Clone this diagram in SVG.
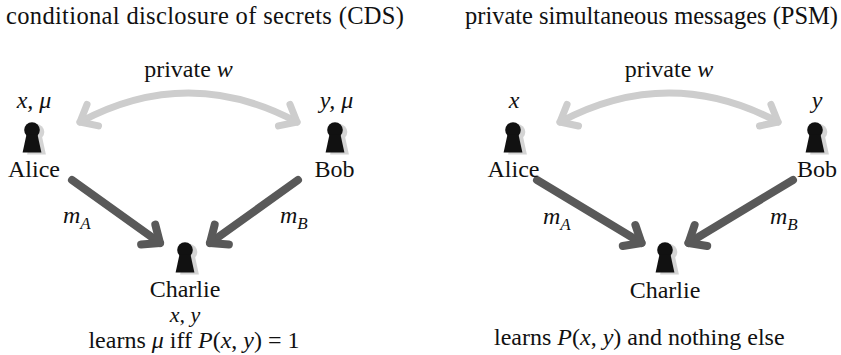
<svg xmlns="http://www.w3.org/2000/svg" xmlns:xlink="http://www.w3.org/1999/xlink" width="841" height="355" viewBox="0 0 841 355">
<style>
text{font-family:"Liberation Serif","Times New Roman",serif;font-size:24px;fill:#111}
.title{font-size:24.5px}
.it{font-style:italic}
.sub{font-size:17px;font-style:italic}
.mid{text-anchor:middle}
.small{font-size:22px}
.priv{fill:none;stroke:#cdcdcd;stroke-width:7;stroke-linecap:round}
.msg{fill:none;stroke:#595959;stroke-width:8;stroke-linecap:round}
</style>
<defs>
<marker id="headLight" markerUnits="userSpaceOnUse" orient="auto-start-reverse" refX="0" refY="0" markerWidth="40" markerHeight="40" viewBox="-30 -20 40 40" overflow="visible">
<path d="M -14.5 -12.2 L 0 0 L -14.5 12.2" fill="none" stroke="#cdcdcd" stroke-width="7" stroke-linecap="round" stroke-linejoin="round"/>
</marker>
<marker id="headDark" markerUnits="userSpaceOnUse" orient="auto" refX="0" refY="0" markerWidth="40" markerHeight="40" viewBox="-30 -20 40 40" overflow="visible">
<path d="M -14.5 -12.2 L 0 0 L -14.5 12.2" fill="none" stroke="#595959" stroke-width="8" stroke-linecap="round" stroke-linejoin="round"/>
</marker>
<g id="person">
<g fill="#d4d4d4" transform="translate(4.5,2)">
<circle cx="0" cy="0" r="7.8"/>
<path d="M -5.5 4.5 L 5.5 4.5 L 9.4 22.5 L -9.4 22.5 Z"/>
</g>
<g fill="#111">
<circle cx="0" cy="0" r="7.8"/>
<path d="M -5.5 4.5 L 5.5 4.5 L 9.4 22.5 L -9.4 22.5 Z"/>
</g>
</g>
</defs>

<g id="titles">
<text class="title" x="6" y="24" textLength="398" lengthAdjust="spacing">conditional disclosure of secrets (CDS)</text>
<text class="title" x="465" y="24" textLength="373" lengthAdjust="spacing">private simultaneous messages (PSM)</text>
</g>

<g id="connectors">
<path class="priv" d="M 80 122 Q 188.5 64 297 122" marker-start="url(#headLight)" marker-end="url(#headLight)"/>
<path class="msg" d="M 72 180 L 160 243" marker-end="url(#headDark)"/>
<path class="msg" d="M 298 180 L 210 243" marker-end="url(#headDark)"/>
<path class="priv" d="M 560 122 Q 669 64 778 122" marker-start="url(#headLight)" marker-end="url(#headLight)"/>
<path class="msg" d="M 537 180 L 641.5 243" marker-end="url(#headDark)"/>
<path class="msg" d="M 793 180 L 688.5 243" marker-end="url(#headDark)"/>
</g>

<g id="connector-labels">
<text class="mid" x="188.5" y="77">private <tspan class="it">w</tspan></text>
<text x="63" y="223"><tspan class="it">m</tspan><tspan class="sub" dy="6">A</tspan></text>
<text x="280" y="223"><tspan class="it">m</tspan><tspan class="sub" dy="6">B</tspan></text>
<text class="mid" x="669" y="77">private <tspan class="it">w</tspan></text>
<text x="543" y="224"><tspan class="it">m</tspan><tspan class="sub" dy="6">A</tspan></text>
<text x="770" y="224"><tspan class="it">m</tspan><tspan class="sub" dy="6">B</tspan></text>
</g>

<g id="cds-alice">
<text class="mid it" x="34" y="108">x, μ</text>
<use xlink:href="#person" href="#person" x="32" y="130"/>
<text class="mid" x="34" y="177">Alice</text>
</g>
<g id="cds-bob">
<text class="mid it" x="336.5" y="108">y, μ</text>
<use xlink:href="#person" href="#person" x="335" y="130"/>
<text class="mid" x="334.5" y="177">Bob</text>
</g>
<g id="cds-charlie">
<use xlink:href="#person" href="#person" x="185" y="250"/>
<text class="mid" x="185" y="297">Charlie</text>
<text class="mid it small" x="185" y="322">x, y</text>
<text class="mid" x="194" y="348">learns <tspan class="it">μ</tspan> iff <tspan class="it">P</tspan>(<tspan class="it">x</tspan>, <tspan class="it">y</tspan>) = 1</text>
</g>

<g id="psm-alice">
<text class="mid it" x="514" y="108">x</text>
<use xlink:href="#person" href="#person" x="513" y="130"/>
<text class="mid" x="513.5" y="177">Alice</text>
</g>
<g id="psm-bob">
<text class="mid it" x="817" y="108">y</text>
<use xlink:href="#person" href="#person" x="815" y="130"/>
<text class="mid" x="817" y="177">Bob</text>
</g>
<g id="psm-charlie">
<use xlink:href="#person" href="#person" x="665" y="250"/>
<text class="mid" x="665" y="298">Charlie</text>
<text x="494" y="345">learns <tspan class="it">P</tspan>(<tspan class="it">x</tspan>, <tspan class="it">y</tspan>) and nothing else</text>
</g>
</svg>
